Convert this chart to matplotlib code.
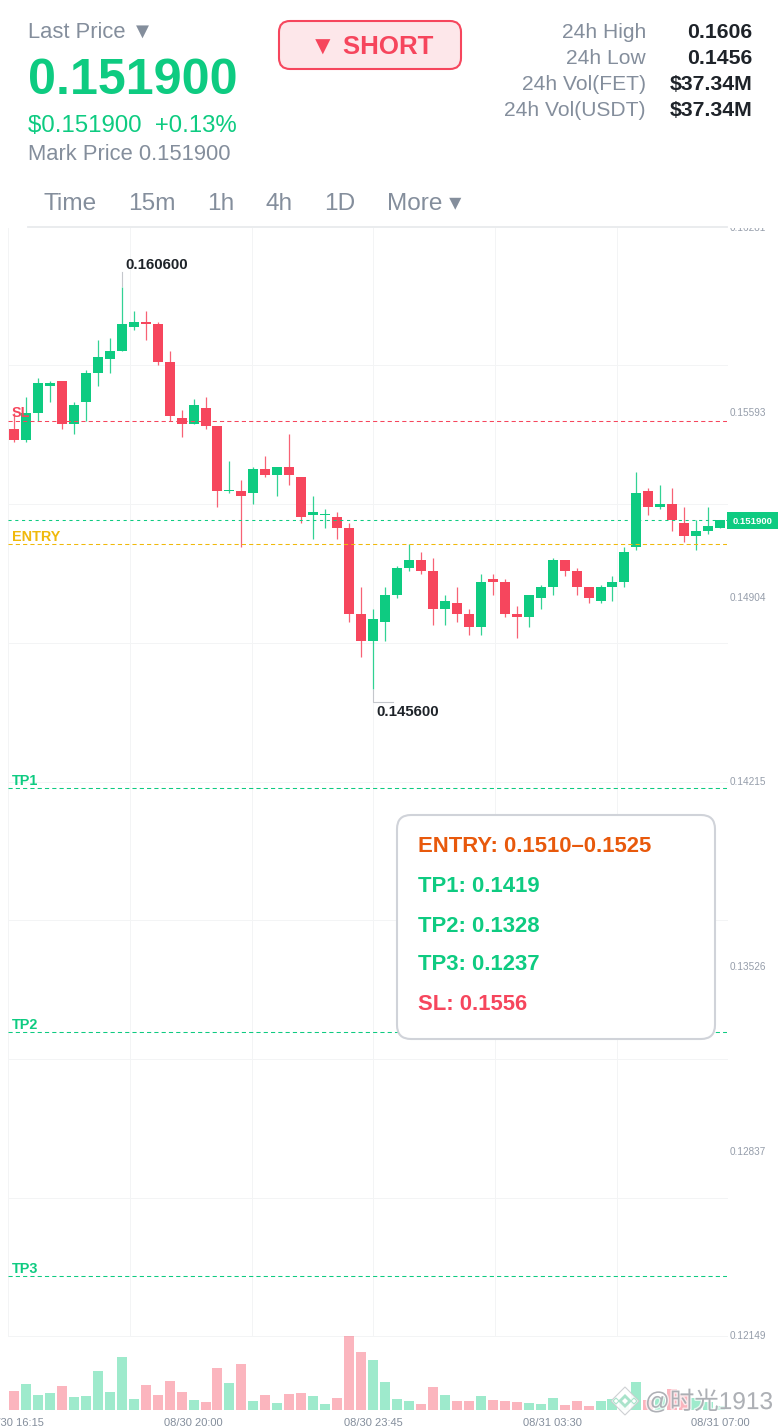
import matplotlib
matplotlib.use("Agg")
import matplotlib.patheffects as pe
import matplotlib.pyplot as plt
from matplotlib.patches import FancyBboxPatch, Polygon, Rectangle
from matplotlib.transforms import Bbox

GREEN = "#0ecb81"
RED = "#f6465d"
GREY = "#848e9c"
DARK = "#1e2329"
YELLOW = "#f0b90b"
GRID = "#f3f4f5"

# candles, oldest first
opens = [0.1553, 0.1549, 0.1559, 0.1569, 0.1571, 0.1555, 0.1563, 0.1574, 0.1579, 0.1582,
         0.1591, 0.1593, 0.1592, 0.1578, 0.1557, 0.1555, 0.1561, 0.1554, 0.1530, 0.1530,
         0.1529, 0.1538, 0.1536, 0.1539, 0.1535, 0.1521, 0.1521, 0.1520, 0.1516, 0.1484,
         0.1474, 0.1481, 0.1491, 0.1501, 0.1504, 0.1500, 0.1486, 0.1488, 0.1484, 0.1479,
         0.1497, 0.1496, 0.1484, 0.1483, 0.1490, 0.1494, 0.1504, 0.1500, 0.1494, 0.1489,
         0.1494, 0.1496, 0.1509, 0.1530, 0.1524, 0.1525, 0.1518, 0.1513, 0.1515, 0.1516]
highs = [0.1559, 0.1565, 0.1572, 0.1571, 0.1571, 0.1563, 0.1575, 0.1586, 0.1587, 0.1606,
         0.1597, 0.1597, 0.1593, 0.1582, 0.1560, 0.1564, 0.1565, 0.1554, 0.1541, 0.1534,
         0.1539, 0.1543, 0.1539, 0.1551, 0.1535, 0.1528, 0.1523, 0.1522, 0.1518, 0.1494,
         0.1486, 0.1494, 0.1502, 0.1510, 0.1507, 0.1505, 0.1491, 0.1494, 0.1486, 0.1499,
         0.1499, 0.1497, 0.1487, 0.1491, 0.1495, 0.1505, 0.1504, 0.1501, 0.1494, 0.1495,
         0.1498, 0.1509, 0.1537, 0.1531, 0.1532, 0.1531, 0.1524, 0.1519, 0.1524, 0.1519]
lows = [0.1548, 0.1548, 0.1556, 0.1563, 0.1553, 0.1551, 0.1556, 0.1569, 0.1574, 0.1582,
        0.1590, 0.1586, 0.1577, 0.1556, 0.1550, 0.1555, 0.1553, 0.1524, 0.1529, 0.1509,
        0.1525, 0.1535, 0.1528, 0.1532, 0.1518, 0.1512, 0.1516, 0.1512, 0.1481, 0.1468,
        0.1456, 0.1474, 0.1490, 0.1500, 0.1499, 0.1480, 0.1480, 0.1481, 0.1476, 0.1476,
        0.1491, 0.1483, 0.1475, 0.1479, 0.1486, 0.1491, 0.1498, 0.1491, 0.1488, 0.1488,
        0.1489, 0.1494, 0.1508, 0.1521, 0.1523, 0.1515, 0.1511, 0.1508, 0.1514, 0.1516]
closes = [0.1549, 0.1559, 0.1570, 0.1570, 0.1555, 0.1562, 0.1574, 0.1580, 0.1582, 0.1592,
          0.1593, 0.1592, 0.1578, 0.1558, 0.1555, 0.1562, 0.1554, 0.1530, 0.1530, 0.1528,
          0.1538, 0.1536, 0.1539, 0.1536, 0.1520, 0.1522, 0.1521, 0.1516, 0.1484, 0.1474,
          0.1482, 0.1491, 0.1501, 0.1504, 0.1500, 0.1486, 0.1489, 0.1484, 0.1479, 0.1496,
          0.1496, 0.1484, 0.1483, 0.1491, 0.1494, 0.1504, 0.1500, 0.1494, 0.1490, 0.1494,
          0.1496, 0.1507, 0.1529, 0.1524, 0.1525, 0.1519, 0.1513, 0.1515, 0.1517, 0.1519]
volumes = [57, 78, 45, 50, 72, 40, 42, 117, 53, 159, 33, 75, 45, 88, 54, 30, 25, 127, 81, 139,
           27, 45, 21, 48, 51, 42, 18, 37, 222, 175, 149, 83, 32, 26, 17, 70, 45, 28, 27, 42,
           30, 27, 23, 20, 18, 36, 15, 26, 12, 27, 32, 30, 84, 30, 40, 63, 48, 35, 25, 12]

price_ticks = [0.16281, 0.15593, 0.14904, 0.14215, 0.13526, 0.12837, 0.12149]
price_grid = [0.15767, 0.15249, 0.14732, 0.14215, 0.13698, 0.13181, 0.12664, 0.12149]
time_grid = [9.7, 19.85, 30, 40.15, 50.4]
time_labels = ["08/30 16:15", "08/30 20:00", "08/30 23:45", "08/31 03:30", "08/31 07:00"]
time_label_idx = [0, 15, 30, 45, 59]
level_names = ["SL", "ENTRY", "TP1", "TP2", "TP3"]
level_prices = [0.1556, 0.1510, 0.1419, 0.1328, 0.1237]
level_colors = [RED, YELLOW, GREEN, GREEN, GREEN]
last_price = 0.1519

W, H = 780, 1428
plt.rcParams["font.family"] = ["Liberation Sans", "Noto Sans CJK SC", "DejaVu Sans"]
fig = plt.figure(figsize=(W / 100, H / 100), dpi=100, facecolor="white")


def px_axes(x0, y0, x1, y1):
    # axes from picture pixels, y counted from the top
    ax = fig.add_axes([x0 / W, 1 - y1 / H, (x1 - x0) / W, (y1 - y0) / H])
    ax.axis("off")
    return ax


# index -> pixel: first candle centre at 14, 11.97 px apart
xlim = ((8 - 14) / 11.97, (727 - 14) / 11.97)
ax = px_axes(8, 227.6, 727, 1335.6)
ax.set_xlim(xlim)
ax.set_ylim(price_ticks[-1], price_ticks[0])
vol_ax = px_axes(8, 1336, 727, 1410)
vol_ax.set_xlim(xlim)
vol_ax.set_ylim(0, max(volumes))

# overlay in picture pixels for the page furniture
ui = px_axes(0, 0, W, H)
ui.set_xlim(0, W)
ui.set_ylim(H, 0)
ui.set_zorder(10)

# grid
for p in price_grid:
    ax.axhline(p, color=GRID, lw=0.72, zorder=0, clip_on=False)
for t in time_grid:
    ax.axvline(t, color=GRID, lw=0.72, zorder=0)
ax.axvline(xlim[0], color=GRID, lw=0.72, zorder=0, clip_on=False)

# candles and volume
for i in range(len(opens)):
    up = closes[i] >= opens[i]
    c = GREEN if up else RED
    ax.vlines(i, lows[i], highs[i], color=c, lw=0.9, alpha=0.85, zorder=3)
    bottom = min(opens[i], closes[i])
    height = max(abs(closes[i] - opens[i]), 0.00003)
    ax.bar(i, height, bottom=bottom, width=10 / 11.97, color=c, lw=0, zorder=4)
    vol_ax.bar(i, volumes[i], width=10 / 11.97, color=c, alpha=0.4, lw=0)

# trade levels
for name, p, c in zip(level_names, level_prices, level_colors):
    ax.axhline(p, color=c, lw=0.75, ls=(0, (4, 3)), zorder=5)
    ax.annotate(name, (xlim[0], p), xytext=(2.9, 0.5), textcoords="offset points", fontsize=10.4, fontweight="bold",
                color=c, va="bottom", zorder=6)
ax.axhline(last_price, color=GREEN, lw=0.75, ls=(0, (3, 3.5)), zorder=5)

# high / low markers
ax.plot([9, 9], [0.16065, 0.16114], color="#c4c7cc", lw=0.8, zorder=3)
ax.plot([30, 30, 31.66], [0.14555, 0.14512, 0.14512], color="#c4c7cc", lw=0.8, zorder=3)
ax.annotate("0.160600", (9, 0.16114), xytext=(2.6, 0.5), textcoords="offset points", fontsize=10.8,
            fontweight="bold", color=DARK, va="bottom", ha="left")
ax.annotate("0.145600", (30, 0.14512), xytext=(2.4, -7.4), textcoords="offset points", fontsize=10.8,
            fontweight="bold", color=DARK, va="center", ha="left")

# price labels on the right, the top one is cut by the header rule
for p in price_ticks:
    t = ax.annotate(f"{p:.5f}", (1, p), xycoords=("axes fraction", "data"), xytext=(2.2, -0.6),
                    textcoords="offset points", fontsize=7.2, color="#959daa", va="center", annotation_clip=False)
    t.set_clip_box(Bbox.from_extents(700, 0, W, H - 228))
    t.set_clip_on(True)

# last price tag
ui.add_patch(Rectangle((727, 512), 51, 17, fc=GREEN, ec="none"))
ui.text(752.5, 521.5, "0.151900", fontsize=6.8, fontweight="bold", color="white", ha="center", va="center")

# time labels
for i, s in zip(time_label_idx, time_labels):
    vol_ax.annotate(s, (i, 0), xytext=(0, -9.2), textcoords="offset points", fontsize=8, color=GREY,
                    ha="center", va="center", annotation_clip=False)


def head(x, y, s, size, color=GREY, ha="left", weight="normal"):
    ui.text(x, y, s, fontsize=size, color=color, ha=ha, va="center", fontweight=weight)


# header
head(28, 32, "Last Price ▼", 15.8)
head(28, 81, "0.151900", 36.2, GREEN, weight="bold")
head(28, 126, "$0.151900  +0.13%", 17.25, GREEN)
head(28, 154, "Mark Price 0.151900", 15.8)
for y, lab, val in zip([32, 58, 84, 110],
                       ["24h High", "24h Low", "24h Vol(FET)", "24h Vol(USDT)"],
                       ["0.1606", "0.1456", "$37.34M", "$37.34M"]):
    head(646, y, lab, 15.1, ha="right")
    head(752, y, val, 15.3, DARK, ha="right", weight="bold")
for x, s in zip([44, 128, 207, 266, 324, 387], ["Time", "15m", "1h", "4h", "1D", "More ▾"]):
    head(x, 203.5, s, 17.6)
ui.plot([28, 727], [227, 227], color="#e8eaed", lw=1.3)

# SHORT badge
ui.add_patch(FancyBboxPatch((279, 21), 182, 48, boxstyle="round,pad=0,rounding_size=11",
                            fc="#fde7ea", ec=RED, lw=1.5))
ui.text(372, 46.5, "▼ SHORT", fontsize=18.6, fontweight="bold", color=RED, ha="center", va="center")

# signal box
ui.add_patch(FancyBboxPatch((397, 815), 318, 224, boxstyle="round,pad=0,rounding_size=14",
                            fc="white", ec="#d0d3d9", lw=1.5))
for y, s, c in zip([846.5, 886.5, 926.5, 964.5, 1004.5],
                   ["ENTRY: 0.1510–0.1525", "TP1: 0.1419", "TP2: 0.1328", "TP3: 0.1237", "SL: 0.1556"],
                   ["#e8590c", GREEN, GREEN, GREEN, RED]):
    ui.text(418, y, s, fontsize=15.9, fontweight="bold", color=c, va="center")


def diamond(cx, cy, r, **kw):
    ui.add_patch(Polygon([(cx, cy - r), (cx + r, cy), (cx, cy + r), (cx - r, cy)], **kw))


# watermark
halo = [pe.withStroke(linewidth=2, foreground="white", alpha=0.7)]
diamond(625, 1401, 14, fc="white", ec="#c9cccf", lw=0.8, alpha=0.9)
diamond(625, 1401, 7, fc="#a9e3cb", ec="none")
diamond(625, 1401, 3, fc="white", ec="none")
for dx in (-9, 9):
    diamond(625 + dx, 1401, 3, fc="white", ec="#a9e3cb", lw=0.8)
ui.text(645, 1402, "@时光1913", fontsize=17.6, color="#a3a6ac", alpha=0.85, va="center", ha="left", path_effects=halo)

fig.savefig("out.png", dpi=100)
